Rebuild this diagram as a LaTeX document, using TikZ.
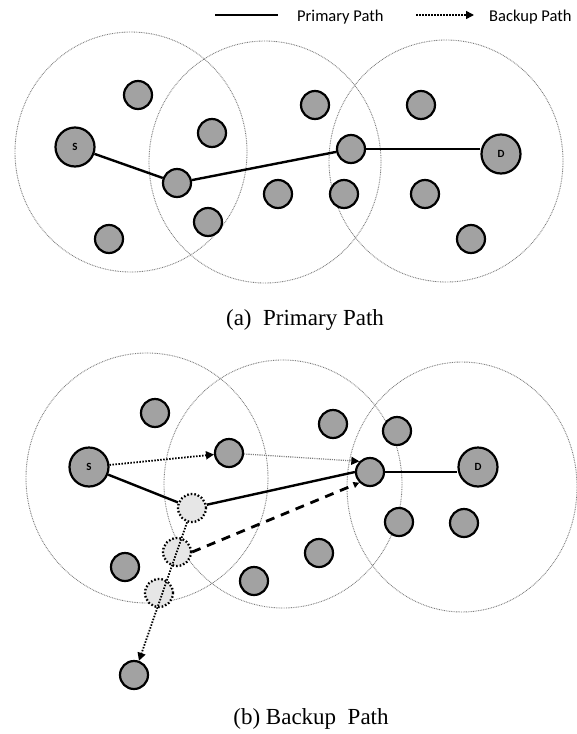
\documentclass[tikz,border=0pt]{standalone}
\usepackage{fontspec}
\setmainfont{Liberation Serif}
\newfontfamily\legfont{Carlito}
\usetikzlibrary{arrows.meta}
\definecolor{nodegray}{HTML}{A2A2A2}
\definecolor{failgray}{HTML}{E6E6E6}
\definecolor{rangegray}{HTML}{7A7A7A}
\begin{document}
\begin{tikzpicture}[x=1pt,y=-1pt,
 rangecirc/.style={draw=rangegray, line width=0.9pt, dash pattern=on 0.8pt off 0.9pt},
 sensor/.style={circle, draw=black, line width=2.2pt, fill=nodegray, minimum size=28pt, inner sep=0pt},
 endpt/.style={sensor, minimum size=39pt, font=\legfont\bfseries\fontsize{11}{11}\selectfont},
 failed/.style={circle, draw=black, line width=2.3pt, dash pattern=on 1.6pt off 2pt, fill=failgray, minimum size=28pt, inner sep=0pt},
 primary/.style={line width=2.4pt},
 backup/.style={line width=1.8pt, dash pattern=on 1.5pt off 1.5pt, -{Triangle[length=8pt,width=8pt]}},
 thinbackup/.style={draw=rangegray, line width=1.2pt, dash pattern=on 1.1pt off 1.1pt, -{Triangle[length=8pt,width=8pt,black]}},
 altpath/.style={line width=2.8pt, dash pattern=on 9pt off 7pt, -{Triangle[length=6pt,width=6pt]}},
 legtext/.style={font=\legfont\fontsize{16.5}{18}\selectfont, anchor=base west, inner sep=0pt},
 caption/.style={font=\fontsize{23}{26}\selectfont, anchor=base, inner sep=0pt}
]
\useasboundingbox (0,0) rectangle (577,734);

% ---------- legend ----------
\coordinate (la) at (215,15);
\coordinate (lb) at (278,15);
\coordinate (lc) at (416,15);
\coordinate (ld) at (474,15);
\draw[primary] (la) -- (lb);
\node[legtext] (lprim) at (297,21) {Primary Path};
\draw[backup, line width=1.6pt] (lc) -- (ld);
\node[legtext] (lback) at (489,21) {Backup Path};

% ---------- (a) primary path ----------
\draw[rangecirc] (131,152) ellipse [x radius=116, y radius=120];
\draw[rangecirc] (265,162) ellipse [x radius=116, y radius=121];
\draw[rangecirc] (446,161) ellipse [x radius=117, y radius=121];

\node[endpt] (aS) at (75,147) {S};
\node[endpt] (aD) at (501,154) {D};
\node[sensor] (a1) at (138,95) {};
\node[sensor] (a2) at (212,133) {};
\node[sensor] (aR1) at (177,183) {};
\node[sensor] (a3) at (208,222) {};
\node[sensor] (a4) at (109,239) {};
\node[sensor] (a5) at (315,105) {};
\node[sensor] (a6) at (278,194) {};
\node[sensor] (aR2) at (351,149) {};
\node[sensor] (a7) at (344,194) {};
\node[sensor] (a8) at (421,105) {};
\node[sensor] (a9) at (425,194) {};
\node[sensor] (a10) at (471,239) {};

\draw[primary] (aS) -- (aR1);
\draw[primary] (aR1) -- (aR2);
\draw[primary] (aR2) -- (aR2 -| aD.west);

\node[caption] (capa) at (305,325) {(a)\ \ Primary Path};

% ---------- (b) backup path ----------
\draw[rangecirc] (147,478) ellipse [x radius=121, y radius=125];
\draw[rangecirc] (283,484) ellipse [x radius=119, y radius=124];
\draw[rangecirc] (462,487) ellipse [x radius=115, y radius=125];

\node[endpt] (bS) at (89,467) {S};
\node[endpt] (bD) at (478,467) {D};
\node[sensor] (b1) at (155,413) {};
\node[sensor] (b2) at (229,453) {};
\node[failed] (bF1) at (192,508) {};
\node[failed] (bF2) at (177,552) {};
\node[failed] (bF3) at (159,593) {};
\node[sensor] (b3) at (125,567) {};
\node[sensor] (b4) at (134,675) {};
\node[sensor] (b5) at (333,424) {};
\node[sensor] (b6) at (397,431) {};
\node[sensor] (bR2) at (370,472) {};
\node[sensor] (b7) at (399,522) {};
\node[sensor] (b8) at (464,523) {};
\node[sensor] (b9) at (319,553) {};
\node[sensor] (b10) at (254,581) {};

\draw[primary] (bS) -- (bF1);
\draw[primary] (bF1) -- (bR2.west);
\draw[primary] (bR2) -- (bR2 -| bD.west);
\draw[backup] (bS) -- (b2);
\draw[thinbackup] (b2) -- (bR2.north west);
\draw[altpath] (bF2.east) -- (bR2.south west);
\draw[backup] (bF1) -- (b4);

\node[caption] (capb) at (311,724) {(b)\ Backup\ \ Path};
\end{tikzpicture}
\end{document}
